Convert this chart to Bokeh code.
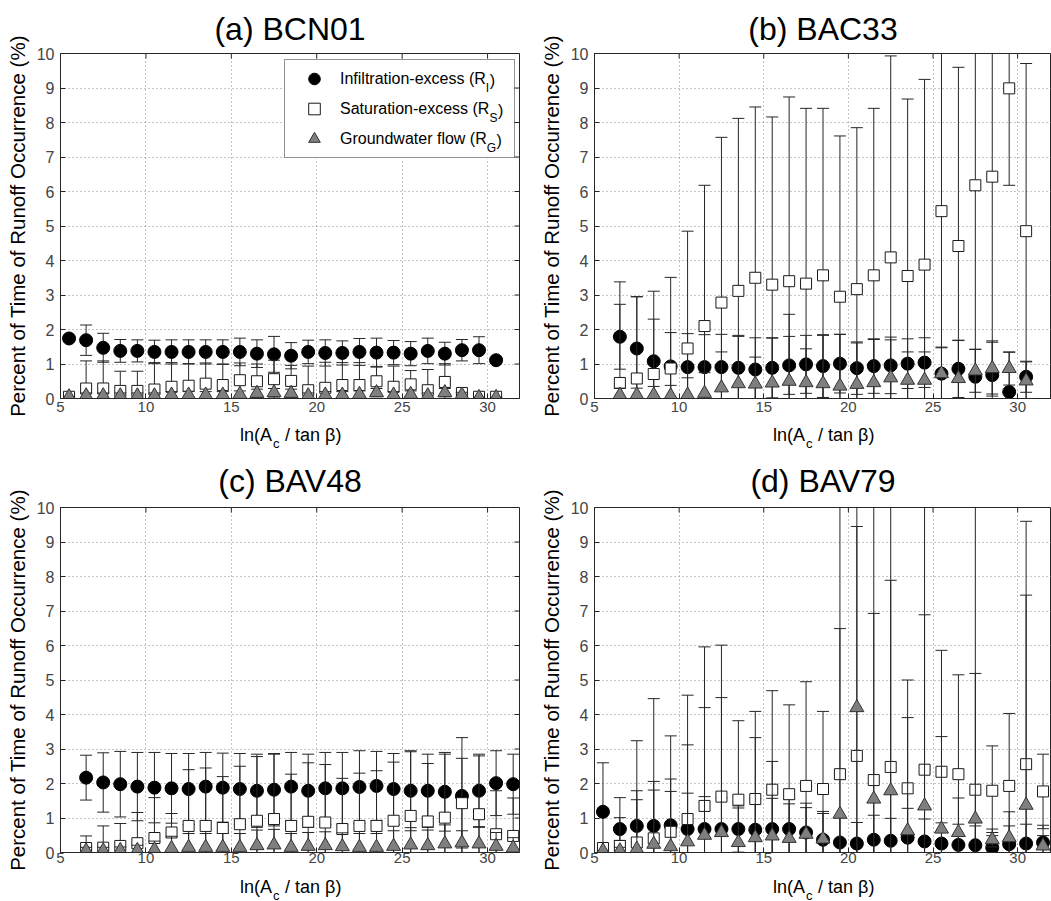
from bokeh.plotting import figure
from bokeh.models import (Range1d, Legend, LegendItem, FixedTicker, ColumnDataSource)
from bokeh.core.properties import value
from bokeh.layouts import column, row
from bokeh.embed import file_html
from bokeh.resources import INLINE

FONT = "Liberation Sans"

# ---------------- data ----------------
x_a = [5.5, 6.5, 7.5, 8.5, 9.5, 10.5, 11.5, 12.5, 13.5, 14.5, 15.5, 16.5, 17.5,
       18.5, 19.5, 20.5, 21.5, 22.5, 23.5, 24.5, 25.5, 26.5, 27.5, 28.5, 29.5, 30.5]
a_I = [1.74, 1.69, 1.47, 1.38, 1.38, 1.35, 1.35, 1.35, 1.35, 1.35, 1.35, 1.30, 1.28,
       1.24, 1.35, 1.32, 1.32, 1.35, 1.33, 1.33, 1.30, 1.38, 1.30, 1.40, 1.40, 1.11]
a_I_err = [0, 0.44, 0.42, 0.33, 0.32, 0.34, 0.35, 0.35, 0.35, 0.35, 0.40, 0.40, 0.52,
           0.38, 0.34, 0.38, 0.35, 0.39, 0.42, 0.35, 0.35, 0.37, 0.33, 0.31, 0.39, 0]
a_S = [0.05, 0.29, 0.29, 0.22, 0.22, 0.26, 0.34, 0.37, 0.43, 0.39, 0.53, 0.50, 0.56,
       0.51, 0.24, 0.31, 0.39, 0.39, 0.50, 0.34, 0.41, 0.24, 0.48, 0.16, 0.05, 0.05]
a_S_err = [0, 0.80, 0.80, 0.57, 0.57, 0.78, 0.70, 0.64, 0.60, 0.60, 0.50, 0.50, 0.55,
           0.45, 0.70, 0.74, 0.65, 0.65, 0.43, 0.60, 0.40, 0.60, 0.53, 0, 0, 0]
a_G = [0.05, 0.08, 0.08, 0.08, 0.08, 0.08, 0.10, 0.10, 0.10, 0.10, 0.12, 0.15, 0.17,
       0.15, 0.08, 0.10, 0.10, 0.12, 0.17, 0.10, 0.12, 0.08, 0.17, 0.10, 0.03, 0.03]
a_G_err = [0, 0.08, 0.08, 0.08, 0.08, 0.08, 0.10, 0.10, 0.10, 0.10, 0.10, 0.12, 0.12,
           0.12, 0.08, 0.10, 0.10, 0.10, 0.12, 0.10, 0.10, 0.08, 0.12, 0.08, 0, 0]

x_b = [6.5, 7.5, 8.5, 9.5, 10.5, 11.5, 12.5, 13.5, 14.5, 15.5, 16.5, 17.5, 18.5,
       19.5, 20.5, 21.5, 22.5, 23.5, 24.5, 25.5, 26.5, 27.5, 28.5, 29.5, 30.5]
b_I = [1.79, 1.45, 1.08, 0.93, 0.91, 0.91, 0.91, 0.89, 0.84, 0.89, 0.96, 0.99, 0.94,
       1.01, 0.88, 0.94, 0.96, 1.01, 1.04, 0.72, 0.86, 0.63, 0.68, 0.19, 0.63]
b_I_err = [0.94, 1.50, 1.22, 0.98, 0.97, 0.94, 0.95, 0.91, 0.92, 0.87, 0.84, 0.84, 0.91,
           0.85, 0.76, 0.79, 0.82, 0.72, 0.72, 0.77, 0.83, 0.80, 0.95, 1.15, 0.45]
b_S = [0.45, 0.58, 0.71, 0.87, 1.45, 2.10, 2.78, 3.12, 3.50, 3.30, 3.40, 3.33, 3.57,
       2.95, 3.17, 3.57, 4.09, 3.55, 3.88, 5.43, 4.42, 6.18, 6.43, 8.99, 4.85]
b_S_err = [2.93, 2.37, 2.40, 2.64, 3.40, 4.08, 4.79, 5.00, 4.95, 4.86, 5.34, 5.08, 4.84,
           4.66, 4.68, 4.84, 5.84, 5.13, 5.37, 5.80, 5.18, 6.50, 6.30, 2.81, 4.86]
b_G = [0.10, 0.10, 0.10, 0.08, 0.10, 0.15, 0.31, 0.43, 0.42, 0.45, 0.50, 0.46, 0.43,
       0.36, 0.41, 0.46, 0.60, 0.53, 0.53, 0.72, 0.58, 0.80, 0.87, 0.87, 0.51]
b_G_err = [0.20, 0.20, 0.25, 0.30, 0.50, 0.60, 1.04, 1.40, 0.78, 1.30, 1.94, 0.98, 1.40,
           1.50, 1.20, 1.25, 1.10, 0.82, 0.82, 0.75, 1.10, 0.62, 0.80, 0.48, 0.55]

x_c = [6.5, 7.5, 8.5, 9.5, 10.5, 11.5, 12.5, 13.5, 14.5, 15.5, 16.5, 17.5, 18.5,
       19.5, 20.5, 21.5, 22.5, 23.5, 24.5, 25.5, 26.5, 27.5, 28.5, 29.5, 30.5, 31.5]
c_I = [2.17, 2.03, 1.98, 1.91, 1.88, 1.86, 1.84, 1.91, 1.88, 1.84, 1.79, 1.82, 1.91,
       1.79, 1.86, 1.86, 1.90, 1.93, 1.84, 1.79, 1.79, 1.76, 1.64, 1.79, 2.01, 1.98]
c_I_err = [0.65, 0.86, 0.95, 0.99, 1.02, 1.01, 1.03, 0.99, 1.00, 1.03, 1.06, 1.05, 0.99,
           1.06, 1.04, 1.04, 1.05, 1.00, 1.03, 1.16, 1.06, 1.14, 1.69, 1.06, 0.94, 0.87]
c_S = [0.13, 0.14, 0.19, 0.27, 0.42, 0.58, 0.77, 0.77, 0.71, 0.82, 0.92, 0.97, 0.77,
       0.89, 0.87, 0.68, 0.77, 0.77, 0.92, 1.06, 0.90, 1.01, 1.43, 1.11, 0.53, 0.48]
c_S_err = [0.35, 0.63, 0.65, 0.89, 1.17, 0.55, 1.63, 1.68, 1.49, 1.68, 1.86, 1.88, 1.50,
           1.71, 1.68, 1.47, 1.53, 1.60, 1.70, 1.86, 1.68, 1.84, 1.30, 1.69, 1.26, 1.10]
c_G = [0.05, 0.05, 0.06, 0.06, 0.08, 0.12, 0.15, 0.15, 0.15, 0.15, 0.20, 0.22, 0.15,
       0.18, 0.20, 0.17, 0.15, 0.15, 0.18, 0.22, 0.20, 0.25, 0.28, 0.25, 0.18, 0.13]
c_G_err = [0.10, 0.10, 0.10, 0.15, 0.25, 0.35, 0.40, 0.40, 0.40, 0.40, 0.45, 0.45, 0.40,
           0.40, 0.40, 0.40, 0.40, 0.40, 0.45, 0.50, 0.45, 0.55, 0.35, 0.50, 0.40, 0.30]

x_d = [5.5, 6.5, 7.5, 8.5, 9.5, 10.5, 11.5, 12.5, 13.5, 14.5, 15.5, 16.5, 17.5, 18.5,
       19.5, 20.5, 21.5, 22.5, 23.5, 24.5, 25.5, 26.5, 27.5, 28.5, 29.5, 30.5, 31.5]
d_I = [1.18, 0.68, 0.77, 0.77, 0.79, 0.68, 0.68, 0.68, 0.68, 0.66, 0.68, 0.68, 0.58, 0.37,
       0.29, 0.26, 0.37, 0.34, 0.43, 0.32, 0.26, 0.22, 0.21, 0.14, 0.24, 0.26, 0.29]
d_I_err = [1.42, 0.33, 0.76, 1.04, 0.98, 1.04, 0.94, 0.90, 0.67, 0.90, 0.89, 0.87, 0.72, 0.76,
           0.72, 0.61, 0.71, 0.65, 0.85, 0.65, 0.60, 0.60, 0.56, 0.54, 0.53, 0.56, 0.50]
d_S = [0.13, 0.19, 0.29, 0.41, 0.60, 0.97, 1.35, 1.62, 1.53, 1.55, 1.82, 1.69, 1.93, 1.84,
       2.27, 2.80, 2.10, 2.48, 1.86, 2.40, 2.34, 2.27, 1.82, 1.79, 1.93, 2.56, 1.77]
d_S_err = [0, 1.40, 2.95, 4.05, 2.78, 3.59, 4.61, 4.39, 2.29, 2.54, 2.87, 2.59, 3.02, 2.25,
           4.22, 6.65, 4.83, 5.41, 3.14, 4.49, 3.52, 2.88, 3.37, 1.30, 2.10, 7.04, 1.08]
d_G = [0.05, 0.05, 0.10, 0.24, 0.17, 0.31, 0.50, 0.58, 0.29, 0.43, 0.48, 0.41, 0.53, 0.39,
       1.11, 4.20, 1.55, 1.79, 0.63, 1.35, 0.68, 0.58, 0.97, 0.37, 0.43, 1.37, 0.19]
d_G_err = [0, 0.10, 1.69, 1.82, 1.96, 2.81, 3.70, 3.91, 1.00, 2.90, 2.16, 1.00, 0.90, 0.80,
           9.50, 7.00, 9.00, 9.00, 3.28, 9.50, 2.68, 1.00, 9.50, 0.21, 0.75, 6.09, 0.30]

titles = ["(a) BCN01", "(b) BAC33", "(c) BAV48", "(d) BAV79"]
legend_main = ["Infiltration-excess (R", "Saturation-excess (R", "Groundwater flow (R"]
legend_sub = ["I", "S", "G"]
y_label = "Percent of Time of Runoff Occurrence (%)"
x_label_parts = ["ln(A", "c", "/ tan \u03b2)"]
x_ticks = [5, 10, 15, 20, 25, 30]
y_ticks = [0, 1, 2, 3, 4, 5, 6, 7, 8, 9, 10]

INK = "#262626"
TICK_COLOR = "#444444"
X0, Y0, Y1 = 5, 0, 10
FRAME_H = 345
TICK_PX = 5


def series(p, xs, vals, errs, marker, size, fill, line):
    lo = [v - e for v, e in zip(vals, errs)]
    hi = [v + e for v, e in zip(vals, errs)]
    src = ColumnDataSource(dict(x=xs, y=vals, lo=lo, hi=hi))
    p.segment(x0="x", y0="lo", x1="x", y1="hi", source=src, line_color=INK, line_width=1)
    p.scatter("x", "lo", marker="dash", size=12, line_color=INK, line_width=1, source=src)
    p.scatter("x", "hi", marker="dash", size=12, line_color=INK, line_width=1, source=src)
    return p.scatter("x", "y", marker=marker, size=size, fill_color=fill,
                     line_color=line, line_width=1, source=src)


def panel(idx, xs, data, width, height, bl, br, bt, bb, xend, right_ticks,
          title_standoff, tick_standoff, legend_box=None):
    p = figure(width=width, height=height, x_range=Range1d(X0, xend), y_range=Range1d(Y0, Y1),
               output_backend="svg", toolbar_location=None,
               min_border_left=bl, min_border_right=br, min_border_top=bt, min_border_bottom=bb,
               background_fill_color="white", border_fill_color="white",
               outline_line_color=INK, outline_line_width=1)
    p.title.text = titles[idx]
    p.title.align = "center"
    p.title.text_font = FONT
    p.title.text_font_size = "32px"
    p.title.text_font_style = "normal"
    p.title.text_color = "black"
    p.title.standoff = title_standoff

    for ax in (p.xaxis[0], p.yaxis[0]):
        ax.major_tick_in = TICK_PX
        ax.major_tick_out = 0
        ax.minor_tick_line_color = None
        ax.axis_line_color = INK
        ax.major_tick_line_color = INK
        ax.major_label_text_font = FONT
        ax.major_label_text_color = TICK_COLOR
    p.xaxis.major_label_text_font_size = "15px"
    p.yaxis.major_label_text_font_size = "16px"
    p.xaxis.ticker = FixedTicker(ticks=x_ticks)
    p.yaxis.ticker = FixedTicker(ticks=y_ticks)
    p.xaxis.major_label_standoff = tick_standoff
    p.yaxis.major_label_standoff = 6
    p.yaxis.axis_label = y_label
    p.yaxis.axis_label_text_font = FONT
    p.yaxis.axis_label_text_font_size = "20.5px"
    p.yaxis.axis_label_text_font_style = "normal"
    p.yaxis.axis_label_text_color = "black"
    p.yaxis.axis_label_standoff = 5

    p.xgrid.ticker = FixedTicker(ticks=x_ticks)
    p.ygrid.ticker = FixedTicker(ticks=y_ticks)
    for g in (p.xgrid[0], p.ygrid[0]):
        g.grid_line_color = "#8a8a8a"
        g.grid_line_dash = "1 3"
        g.grid_line_width = 1

    fw = width - bl - br
    sx = (xend - X0) / fw          # data units per pixel, x
    sy = (Y1 - Y0) / FRAME_H       # data units per pixel, y

    # inward ticks on the top edge (and right edge when it is visible)
    dy = TICK_PX * sy
    n = len(x_ticks)
    p.segment(x0=x_ticks, y0=[Y1] * n, x1=x_ticks, y1=[Y1 - dy] * n, line_color=INK, line_width=1)
    if right_ticks:
        dx = TICK_PX * sx
        m = len(y_ticks)
        p.segment(x0=[xend] * m, y0=y_ticks, x1=[xend - dx] * m, y1=y_ticks,
                  line_color=INK, line_width=1)

    if legend_box:
        # white backing behind the (transparent) legend so that grid lines do not show through
        lx, ly, lw, lh = legend_box
        p.rect(x=[X0 + (lx + lw / 2.0) * sx], y=[Y0 + (ly + lh / 2.0) * sy],
               width=[lw * sx], height=[lh * sy], fill_color="white", line_color=None)

    (vI, eI), (vS, eS), (vG, eG) = data
    rI = series(p, xs, vI, eI, "circle", 13, "black", "black")
    rS = series(p, xs, vS, eS, "square", 11, "white", "#1a1a1a")
    rG = series(p, xs, vG, eG, "triangle", 14, "#7f7f7f", "#333333")
    return p, (rI, rS, rG), sx, sy


def xlabel_strip(width, height, bl, br, base_y, sub_drop):
    """Strip under a panel holding the x-axis title with its subscript."""
    s = figure(width=width, height=height, x_range=Range1d(0, width), y_range=Range1d(0, height),
               output_backend="svg", toolbar_location=None, x_axis_type=None, y_axis_type=None,
               min_border=0, outline_line_color=None, background_fill_color="white",
               border_fill_color="white")
    s.xgrid.visible = False
    s.ygrid.visible = False
    cx = bl + (width - bl - br) / 2.0
    s.text(x=[cx - 18], y=[base_y], text=[x_label_parts[0]], text_align="right",
           text_baseline="alphabetic", text_font=value(FONT), text_font_size=value("18px"),
           text_color="black")
    s.text(x=[cx - 17], y=[base_y - sub_drop], text=[x_label_parts[1]], text_align="left",
           text_baseline="alphabetic", text_font=value(FONT), text_font_size=value("13px"),
           text_color="black")
    s.text(x=[cx - 5], y=[base_y], text=[x_label_parts[2]], text_align="left",
           text_baseline="alphabetic", text_font=value(FONT), text_font_size=value("18px"),
           text_color="black")
    return s


# legend geometry (pixels, relative to the bottom-left corner of panel (a)'s frame)
LPAD, GW, GH, SPC, STAND, LW = 4, 50, 29, 1, 1, 170
leg_x, leg_y = 224, 240
LEG_W = 2 * LPAD + GW + STAND + LW
LEG_H = 2 * LPAD + 3 * GH + 2 * SPC

XEND_L, XEND_R = 31.87, 32.0

pa, ra, sxa, sya = panel(0, x_a, ((a_I, a_I_err), (a_S, a_S_err), (a_G, a_G_err)),
                         525, 418, 60, 6, 53, 20, XEND_L, True, 13, 3,
                         legend_box=(leg_x, leg_y, LEG_W, LEG_H))
pb, rb, _, _ = panel(1, x_b, ((b_I, b_I_err), (b_S, b_S_err), (b_G, b_G_err)),
                     526, 418, 69, 0, 53, 20, XEND_R, False, 13, 3)
pc, rc, _, _ = panel(2, x_c, ((c_I, c_I_err), (c_S, c_S_err), (c_G, c_G_err)),
                     525, 420, 60, 6, 57, 18, XEND_L, True, 17, 0)
pd, rd, _, _ = panel(3, x_d, ((d_I, d_I_err), (d_S, d_S_err), (d_G, d_G_err)),
                     526, 420, 69, 0, 57, 18, XEND_R, False, 17, 0)

sa = xlabel_strip(525, 32, 60, 6, 15.5, 8)
sb = xlabel_strip(526, 32, 69, 0, 15.5, 8)
sc = xlabel_strip(525, 31, 60, 6, 14.5, 8)
sd = xlabel_strip(526, 31, 69, 0, 14.5, 8)

legend = Legend(items=[LegendItem(label=legend_main[i], renderers=[ra[i]]) for i in range(3)],
                location=(leg_x, leg_y), padding=LPAD, spacing=SPC, glyph_width=GW,
                glyph_height=GH, label_height=GH, label_width=LW, label_standoff=STAND,
                label_text_font=FONT, label_text_font_size="16px", label_text_color="black",
                border_line_color=INK, border_line_width=1, background_fill_alpha=0.0,
                margin=0)
pa.add_layout(legend)

# subscripts and closing parentheses of the legend entries
main_widths = [9.113 * 16, 9.336 * 16, 9.169 * 16]
sub_widths = [0.278 * 12, 0.667 * 12, 0.778 * 12]
text_x0 = leg_x + LPAD + GW + STAND
sub_x, sub_y, par_x, par_y = [], [], [], []
for i in range(3):
    cy = leg_y + LEG_H - LPAD - GH / 2.0 - i * (GH + SPC)
    px = text_x0 + main_widths[i] + 0.5
    sub_x.append(X0 + px * sxa)
    sub_y.append(Y0 + (cy - 8) * sya)
    par_x.append(X0 + (px + sub_widths[i] + 0.5) * sxa)
    par_y.append(Y0 + cy * sya)
pa.text(x=sub_x, y=sub_y, text=legend_sub, text_align="left", text_baseline="alphabetic",
        text_font=value(FONT), text_font_size=value("12px"), text_color="black")
pa.text(x=par_x, y=par_y, text=[")"] * 3, text_align="left", text_baseline="middle",
        text_font=value(FONT), text_font_size=value("16px"), text_color="black")

layout = column(row(pa, pb), row(sa, sb), row(pc, pd), row(sc, sd))
open("out.html", "w").write(file_html(layout, INLINE))
